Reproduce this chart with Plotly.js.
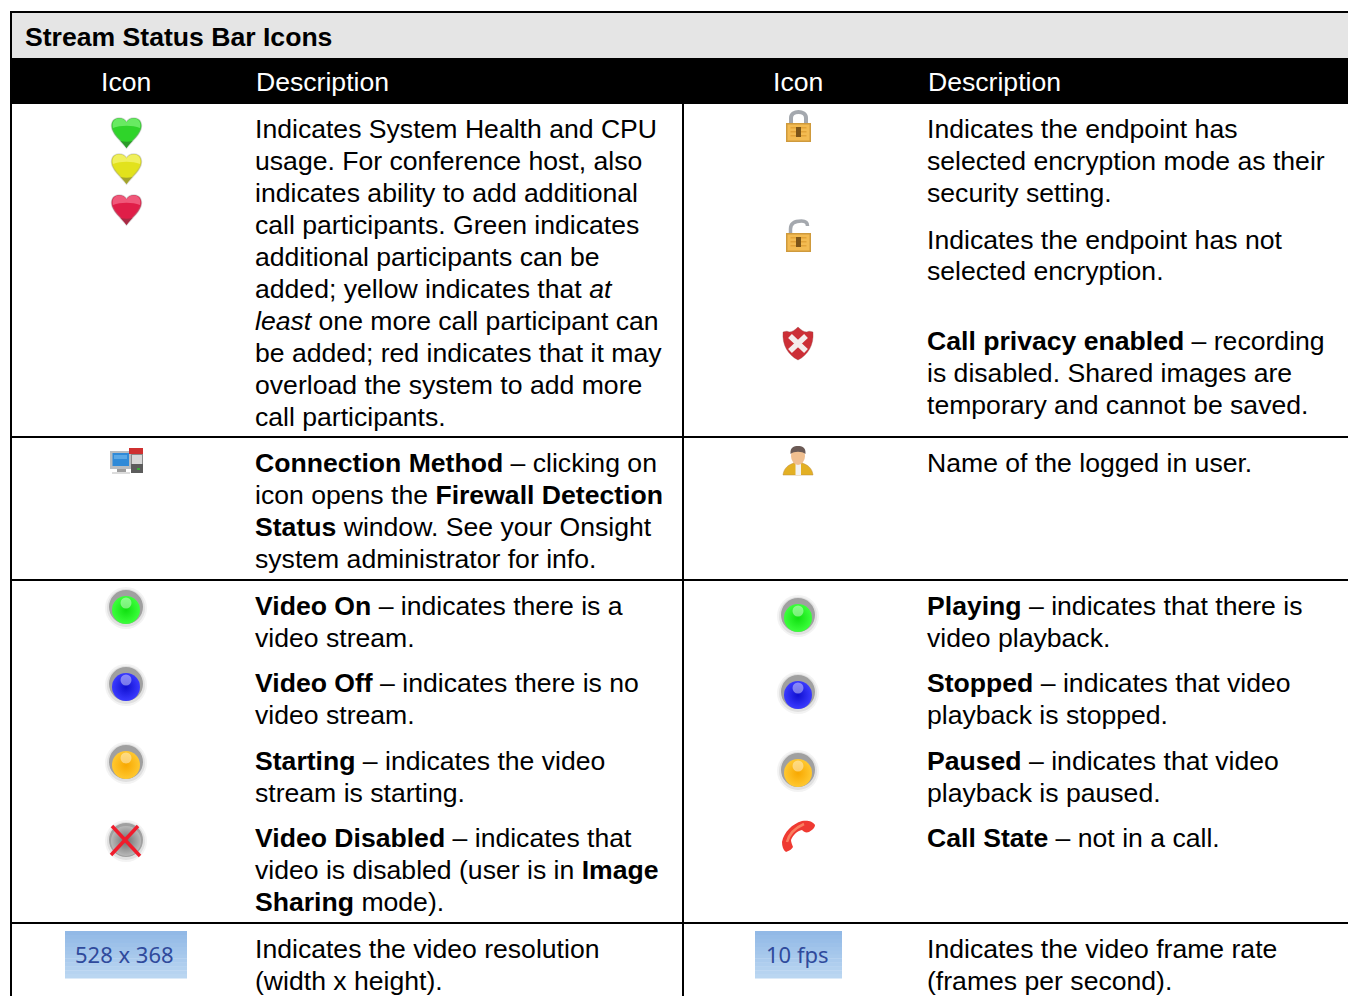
<!DOCTYPE html>
<html>
<head>
<meta charset="utf-8">
<script src="https://cdn.plot.ly/plotly-3.0.1.min.js"></script>
<style>html,body{margin:0;padding:0;background:#fff;overflow:hidden}#chart{width:1348px;height:996px}</style>
</head>
<body>
<div id="chart"></div>
<script>
const tableTitle = "Stream Status Bar Icons";
const headerLabels = ["Icon", "Description", "Icon", "Description"];
const headerX = [126, 256, 798, 928];
const leftLines = [
  "Indicates System Health and CPU","usage. For conference host, also","indicates ability to add additional",
  "call participants. Green indicates","additional participants can be","added; yellow indicates that <i>at</i>",
  "<i>least</i> one more call participant can","be added; red indicates that it may","overload the system to add more","call participants.",
  "<b>Connection Method</b> – clicking on","icon opens the <b>Firewall Detection</b>","<b>Status</b> window. See your Onsight","system administrator for info.",
  "<b>Video On</b> – indicates there is a","video stream.",
  "<b>Video Off</b> – indicates there is no","video stream.",
  "<b>Starting</b> – indicates the video","stream is starting.",
  "<b>Video Disabled</b> – indicates that","video is disabled (user is in <b>Image</b>","<b>Sharing</b> mode).",
  "Indicates the video resolution","(width x height)."
];
const leftY = [129,161,193,225,257,289,321,353,385,417,463,495,527,559,606,638,683,715,761,793,838,870,902,949,981];
const rightLines = [
  "Indicates the endpoint has","selected encryption mode as their","security setting.",
  "Indicates the endpoint has not","selected encryption.",
  "<b>Call privacy enabled</b> – recording","is disabled. Shared images are","temporary and cannot be saved.",
  "Name of the logged in user.",
  "<b>Playing</b> – indicates that there is","video playback.",
  "<b>Stopped</b> – indicates that video","playback is stopped.",
  "<b>Paused</b> – indicates that video","playback is paused.",
  "<b>Call State</b> – not in a call.",
  "Indicates the video frame rate","(frames per second)."
];
const rightY = [129,161,193,240,271,341,373,405,463,606,638,683,715,761,793,838,949,981];
const rowRules = [437, 580, 923];
const bulbX = [126,126,126,798,798,798];
const bulbY = [608,685,763,616,693,771];
const bulbInner = ["#3cff3c","#3a3aff","#ffc830","#3cff3c","#3a3aff","#ffc830"];
const bulbOuter = ["#10e010","#1010d0","#f8a800","#10e010","#1010d0","#f8a800"];
const heartY = [131,167,208];
const heartMain = ["#2fd42a","#e2e21c","#e01e48"];
const heartTop = ["#68ea62","#f0f05e","#f0587a"];
const heartTip = ["#2c9a2a","#a3a32c","#a82a44"];
const badgeLabels = ["528 x 368","10 fps"];
const badgeLeft = [65,755];
const badgeRight = [187,842];
const badgeTextX = [124,797];

const shapes = [];
function add(s){ shapes.push(Object.assign({xref:"x",yref:"y",layer:"above",line:{width:0}},s)); }
function rect(x0,y0,x1,y1,c,layer){ add({type:"rect",x0,y0,x1,y1,fillcolor:c,layer:layer||"above"}); }
function pathAt(cx,cy,tokens,fill,lineC,lineW,op){
  let d="", isX=true;
  tokens.split(/\s+/).forEach(t=>{
    if(/^[MLCQZ]$/.test(t)){ d+=t; isX=true; }
    else { const v=parseFloat(t); d+=(isX?(cx+v):(" "+(cy+v)+" ")); isX=!isX; if(isX) d+=""; else d+=""; }
  });
  add({type:"path",path:d,fillcolor:fill||"rgba(0,0,0,0)",opacity:op==null?1:op,line:{color:lineC||"rgba(0,0,0,0)",width:lineW||0}});
}
function ell(cx,cy,rx,ry,fill,op){ add({type:"circle",x0:cx-rx,x1:cx+rx,y0:cy-ry,y1:cy+ry,fillcolor:fill,opacity:op==null?1:op}); }
function mix(a,b,t){ const p=c=>[1,3,5].map(i=>parseInt(c.substr(i,2),16)); const A=p(a),B=p(b); return "rgb("+A.map((v,i)=>Math.round(v+(B[i]-v)*t)).join(",")+")"; }

// table frame
rect(12,13,1348,58,"#e5e5e5","below");
rect(11,58,1348,104,"#000000","below");
rect(10,11,1348,13,"#000000","below");
rect(10,11,12,996,"#000000","below");
rect(682,104,684,996,"#000000","below");
rowRules.forEach(y=>rect(11,y-1,1348,y+1,"#000000","below"));

// hearts
const HEART="M 0 16 C -5 9 -15 2 -15 -6 C -15 -12 -11 -14 -7.5 -14 C -4 -14 -1.5 -12.5 0 -10 C 1.5 -12.5 4 -14 7.5 -14 C 11 -14 15 -12 15 -6 C 15 2 5 9 0 16 Z";
const HEARTTOP="M -13.5 -4 C -15 -11 -11 -13.5 -7.5 -13.5 C -4 -13.5 -1.5 -12 0 -9.5 C 1.5 -12 4 -13.5 7.5 -13.5 C 11 -13.5 15 -11 13.5 -4 C 6 -7 -6 -7 -13.5 -4 Z";
const HEARTTIP="M 0 16 C -2 13 -4 11 -6 9 C -2 10 2 10 6 9 C 4 11 2 13 0 16 Z";
heartY.forEach((y,i)=>{
  pathAt(126.5,y+1,HEART,heartMain[i],"rgba(150,150,150,0.35)",1.5);
  pathAt(126.5,y+1,HEARTTOP,heartTop[i]);
  pathAt(126.5,y+1,HEARTTIP,heartTip[i]);
});

// padlocks
function lock(cx,top,open){
  if(open){
    pathAt(cx,top,"M -8 13 L -8 8 C -8 1 -2 0 3 0 C 6 0 9 1 9 5","rgba(0,0,0,0)","#a4a8ae",3.5);
  } else {
    pathAt(cx,top,"M -7.5 14 L -7.5 7 C -7.5 -1 7.5 -1 7.5 7 L 7.5 14","rgba(0,0,0,0)","#a4a8ae",4);
  }
  const y0=top+12;
  rect(cx-12.5,y0,cx+12.5,y0+19,"#cf9a3c");
  rect(cx-11,y0+1.5,cx+11,y0+17.5,"#f3bb52");
  [4,8,12].forEach(d=>{ rect(cx-8,y0+d,cx+8,y0+d+1.5,"#e2a338"); });
  rect(cx-2.5,y0+4,cx+2.5,y0+14,"#7c5518");
}
lock(798.5,111,false);
lock(798.5,221,true);

// shield
pathAt(798,343,"M 0 -16 C 3 -13 6 -11 9 -11 C 10 -12 12 -12 15 -11 C 16 2 10 12 0 17 C -10 12 -16 2 -15 -11 C -12 -12 -10 -12 -9 -11 C -6 -11 -3 -13 0 -16 Z","#cc2e36","rgba(150,80,80,0.35)",1);
pathAt(798,343,"M -8 -7 L 8 8 M 8 -7 L -8 8 Z","rgba(0,0,0,0)","#f4ecec",5.5);

// connection icon
rect(110,451,132,469,"#b8bcc0");
rect(112.5,453,129,466,"#2f8ad8");
rect(114,455,127,459,"#5aa8e6");
rect(117,469,126,472,"#9c9c9c");
rect(112,472,130,474,"#dcdcdc");
rect(131,449,143,473,"#8a8a8a");
rect(132,455,142,464,"#d8d8d8");
rect(131,464,143,473,"#5c5c5c");
rect(137,468,140,470,"#3aa83a");
add({type:"rect",x0:129,x1:143,y0:448,y1:454,fillcolor:"#cf3030"});

// user icon
pathAt(798,445,"M -15 30 C -14 23 -10 20 -4 18 L 4 18 C 10 20 14 23 15 30 Z","#e3b024","rgba(190,140,60,0.5)",1);
rect(795.5,464,801,475,"#f2f2f2");
ell(798,456,7,9,"#f0bf90");
pathAt(798,445,"M -7.5 9 C -8 2 -4 1 0 1 C 4 1 8 2 7.5 9 C 4 6 -4 6 -7.5 9 Z","#6b5a55");

// phone icon
pathAt(782,820,"M 33 5 C 31 1 25 0 20 1 C 10 4 2 12 0 22 C 0 26 1 30 4 32 C 7 31 10 29 11 27 C 10 24 9 22 9 20 C 11 15 15 11 20 10 C 22 12 24 13 27 12 C 30 10 33 8 33 5 Z","#ef3a32");
pathAt(782,820,"M 5 22 C 7 14 13 8 22 4","rgba(0,0,0,0)","#fa7f60",2.5);

// badges
badgeLeft.forEach((x0,i)=>{
  const strips=12, top=931, bottom=978, h=(bottom-top)/strips;
  for(let k=0;k<strips;k++) rect(x0,top+k*h,badgeRight[i],top+(k+1)*h+0.4,mix("#92b9e6","#bad6f1",k/(strips-1)));
});
// disabled bulb cross
pathAt(126,841,"M -15 14 L 12 -15","rgba(0,0,0,0)","#f01c2c",3.5);
pathAt(126,841,"M -14 -15 L 14 15","rgba(0,0,0,0)","#f01c2c",3.5);

// text
const annotations=[];
function label(x,y,text,size,color,anchor,family){
  annotations.push({xref:"x",yref:"y",x,y,text,showarrow:false,xanchor:anchor||"left",yanchor:"middle",align:"left",
    borderpad:0,borderwidth:0,font:{family:family||"'Liberation Sans',Arial,sans-serif",size,color}});
}
label(25,37,"<b>"+tableTitle+"</b>",26.6,"#000000");
headerLabels.forEach((t,i)=>label(headerX[i],82,t,26.6,"#ffffff",i%2===0?"center":"left"));
leftLines.forEach((t,i)=>label(255,leftY[i],t,26.6,"#000000"));
rightLines.forEach((t,i)=>label(927,rightY[i],t,26.6,"#000000"));
badgeLabels.forEach((t,i)=>label(badgeTextX[i],954,t,22,"#2f4a9c","center","'Noto Sans',sans-serif"));

// bulbs through the library's marker scale
const off=(a,d)=>a.map(v=>v+d);
function layer(x,y,size,color,extra){
  return Object.assign({type:"scatter",mode:"markers",x,y,hoverinfo:"skip",showlegend:false,cliponaxis:false,
    marker:Object.assign({size,color,line:{width:0}},extra||{})});
}
const allX=bulbX.concat([126]), allY=bulbY.concat([841]);
const traces=[
  layer(allX,allY,42,"rgba(190,190,190,0.18)"),
  layer(allX,allY,38,"rgba(190,190,190,0.35)"),
  layer(allX,off(allY,-1),34,"#a0a0a0"),
  layer(bulbX,off(bulbY,2),28,bulbInner,{gradient:{type:"radial",color:bulbOuter}}),
  layer(bulbX,off(bulbY,-5),11,"rgba(255,255,255,0.42)"),
  layer([126],[841],30,"#b8b8b8",{gradient:{type:"radial",color:"#6e6e6e"}})
];
Plotly.newPlot("chart",traces,{
  width:1348,height:996,margin:{l:0,r:0,t:0,b:0},paper_bgcolor:"#ffffff",plot_bgcolor:"#ffffff",showlegend:false,
  xaxis:{range:[0,1348],visible:false,fixedrange:true},
  yaxis:{range:[996,0],visible:false,fixedrange:true},
  shapes,annotations,hovermode:false
},{displayModeBar:false,staticPlot:true});
</script>
</body>
</html>
